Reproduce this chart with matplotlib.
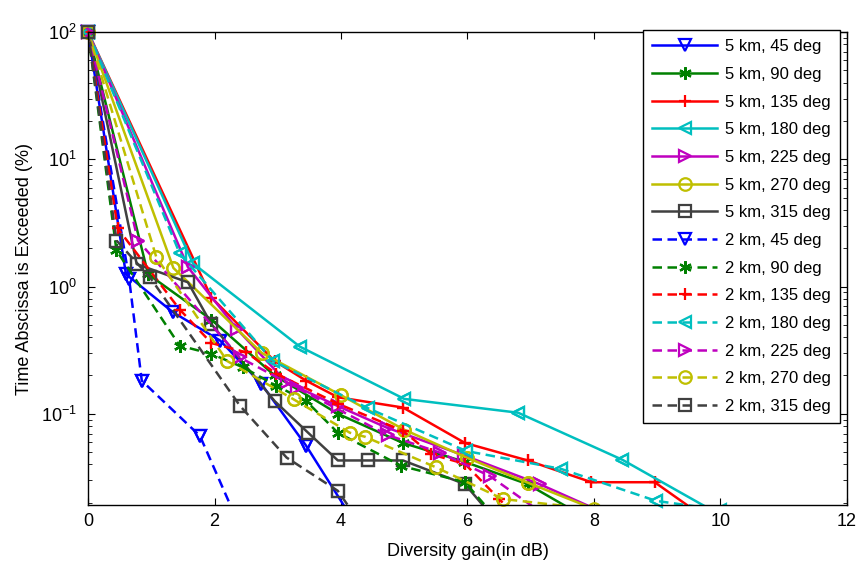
import matplotlib
matplotlib.use("Agg")
import matplotlib.pyplot as plt

plt.rcParams['font.family'] = ['Liberation Sans', 'DejaVu Sans']
plt.rcParams['mathtext.fontset'] = 'custom'
plt.rcParams['mathtext.rm'] = 'Liberation Sans'

# diversity gain (dB) and percentage of time
x_5km_45 = [0, 0.6, 1.34, 2.09, 2.74, 3.45, 4.3]
y_5km_45 = [100, 1.25, 0.63, 0.376, 0.172, 0.056, 0.012]
x_5km_90 = [0, 0.95, 1.95, 2.95, 3.95, 4.98, 5.95, 6.95, 8.0]
y_5km_90 = [100, 1.25, 0.55, 0.2, 0.1, 0.059, 0.042, 0.028, 0.014]
x_5km_135 = [0, 1.95, 2.95, 3.45, 3.95, 4.98, 5.96, 6.95, 7.96, 8.96, 10.0]
y_5km_135 = [100, 0.82, 0.26, 0.182, 0.135, 0.112, 0.059, 0.043, 0.029, 0.029, 0.0125]
x_5km_180 = [0, 1.66, 3.35, 5.0, 6.8, 8.45, 10.5]
y_5km_180 = [100, 1.52, 0.337, 0.131, 0.102, 0.0435, 0.0116]
x_5km_225 = [0, 1.58, 2.35, 3.14, 3.95, 4.72, 5.95, 7.14, 8.5]
y_5km_225 = [100, 1.42, 0.467, 0.177, 0.115, 0.078, 0.047, 0.028, 0.014]
x_5km_270 = [0, 1.35, 2.75, 4.0, 5.0, 6.0, 6.95, 8.3]
y_5km_270 = [100, 1.4, 0.3, 0.14, 0.075, 0.045, 0.0288, 0.0156]
x_5km_315 = [0, 0.77, 1.58, 1.95, 2.95, 3.48, 3.95, 4.43, 4.98, 5.96, 6.6]
y_5km_315 = [100, 1.5, 1.08, 0.508, 0.126, 0.071, 0.043, 0.043, 0.043, 0.028, 0.0118]

x_2km_45 = [0, 0.65, 0.85, 1.77, 2.5]
y_2km_45 = [100, 1.15, 0.182, 0.067, 0.01]
x_2km_90 = [0, 0.45, 1.45, 1.95, 2.45, 2.98, 3.45, 3.95, 4.95, 5.96, 6.6]
y_2km_90 = [100, 1.92, 0.343, 0.296, 0.232, 0.166, 0.126, 0.071, 0.039, 0.029, 0.0125]
x_2km_135 = [0, 0.47, 1.45, 1.95, 2.5, 2.98, 3.95, 4.98, 5.43, 5.96, 6.5, 7.0]
y_2km_135 = [100, 2.86, 0.66, 0.36, 0.304, 0.206, 0.12, 0.0735, 0.048, 0.0404, 0.0214, 0.012]
x_2km_180 = [0, 1.45, 2.92, 4.42, 5.98, 7.48, 8.98, 10.0]
y_2km_180 = [100, 1.82, 0.261, 0.111, 0.051, 0.0369, 0.0207, 0.0176]
x_2km_225 = [0, 0.79, 2.4, 3.3, 4.74, 5.56, 6.35, 7.2]
y_2km_225 = [100, 2.3, 0.277, 0.16, 0.068, 0.0496, 0.0325, 0.0163]
x_2km_270 = [0, 1.08, 2.2, 3.25, 4.14, 4.38, 5.5, 6.56, 8.0]
y_2km_270 = [100, 1.7, 0.26, 0.13, 0.071, 0.066, 0.038, 0.0214, 0.0178]
x_2km_315 = [0, 0.45, 0.98, 2.4, 3.14, 3.95, 4.5]
y_2km_315 = [100, 2.3, 1.18, 0.116, 0.0453, 0.0248, 0.01]

labels = ['5 km, 45 deg', '5 km, 90 deg', '5 km, 135 deg', '5 km, 180 deg',
          '5 km, 225 deg', '5 km, 270 deg', '5 km, 315 deg',
          '2 km, 45 deg', '2 km, 90 deg', '2 km, 135 deg', '2 km, 180 deg',
          '2 km, 225 deg', '2 km, 270 deg', '2 km, 315 deg']
xs = [x_5km_45, x_5km_90, x_5km_135, x_5km_180, x_5km_225, x_5km_270, x_5km_315,
      x_2km_45, x_2km_90, x_2km_135, x_2km_180, x_2km_225, x_2km_270, x_2km_315]
ys = [y_5km_45, y_5km_90, y_5km_135, y_5km_180, y_5km_225, y_5km_270, y_5km_315,
      y_2km_45, y_2km_90, y_2km_135, y_2km_180, y_2km_225, y_2km_270, y_2km_315]

colors = ['#0000ff', '#008000', '#ff0000', '#00bfbf', '#bf00bf', '#bfbf00', '#404040']
markers = ['v', (6, 2, 0), '+', '<', '>', 'o', 's']
ymin = 0.0192

fig = plt.figure(figsize=(8.57, 5.62), dpi=100)
ax = fig.add_axes([0.1027, 0.1014, 0.8856, 0.8416])

for i in range(14):
    c = colors[i % 7]
    m = markers[i % 7]
    ls = '-' if i < 7 else (0, (3.8, 2.2))
    ax.plot(xs[i], ys[i], color=c, linestyle=ls, linewidth=1.8, marker=m,
            markersize=9, markerfacecolor='none', markeredgewidth=1.6,
            label=labels[i])
    # markers at the edge are not clipped
    px = [a for a, b in zip(xs[i], ys[i]) if b >= ymin]
    py = [b for b in ys[i] if b >= ymin]
    ax.plot(px, py, linestyle='none', marker=m, markersize=9, color=c,
            markerfacecolor='none', markeredgewidth=1.6, clip_on=False)

ax.set_yscale('log')
ax.set_xlim(0, 12)
ax.set_ylim(ymin, 100)
ax.set_xticks([0, 2, 4, 6, 8, 10, 12])
ax.tick_params(which='both', direction='in', top=True, right=True, labelsize=13)
ax.tick_params(which='major', length=5)
ax.tick_params(which='minor', length=3)
ax.tick_params(axis='y', pad=8)
ax.tick_params(axis='x', pad=6)
ax.set_xlabel('Diversity gain(in dB)', fontsize=13, labelpad=9)
ax.set_ylabel('Time Abscissa is Exceeded (%)', fontsize=13, labelpad=6)
for s in ax.spines.values():
    s.set_linewidth(1)

leg = ax.legend(loc='upper right', bbox_to_anchor=(0.991, 1.004), fontsize=12,
                fancybox=False, framealpha=1, edgecolor='black',
                handlelength=3.9, handletextpad=0.45, labelspacing=0.76,
                borderaxespad=0, borderpad=0.55)
leg.get_frame().set_linewidth(1)

fig.savefig('out.png', dpi=100)
